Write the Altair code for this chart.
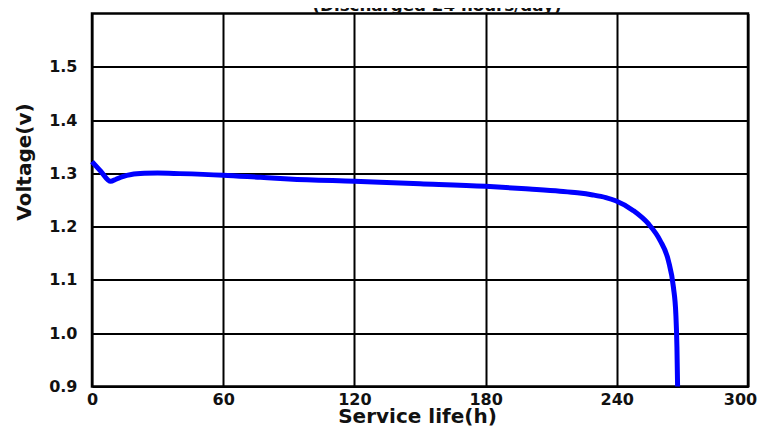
import altair as alt
import pandas as pd

# Service life (h) and voltage (V)
hours = [0, 4, 8.5, 11, 14, 18, 24, 30, 40, 60, 77, 90, 120, 150, 180, 200, 214,
         222, 229, 235, 239.5, 247.6, 254.5, 259.8, 263.6, 265.9, 267.0, 267.5, 267.8]
volts = [1.322, 1.304, 1.285, 1.289, 1.294, 1.298, 1.300, 1.3005, 1.2995, 1.2965,
         1.2925, 1.2895, 1.285, 1.2805, 1.2756, 1.2705, 1.2665,
         1.2635, 1.2595, 1.2545, 1.2485, 1.230, 1.205, 1.174, 1.136, 1.086, 1.036, 0.974, 0.900]

x_ticks = [0, 60, 120, 180, 240, 300]
y_ticks = [0.9, 1.0, 1.1, 1.2, 1.3, 1.4, 1.5]
title_text = "(Discharged 24 hours/day)"
x_title = "Service life(h)"
y_title = "Voltage(v)"

df = pd.DataFrame({"h": hours, "v": volts})
title_df = pd.DataFrame({"t": [title_text]})

FONT = "DejaVu Sans"

line = alt.Chart(df).mark_line(color="#0000FF", strokeWidth=5, interpolate="monotone").encode(
    x=alt.X("h:Q",
            scale=alt.Scale(domain=[0, 300], nice=False, zero=False),
            axis=alt.Axis(values=x_ticks, title=x_title, grid=True, ticks=False, domain=False,
                          labelPadding=5, labelFontSize=16, labelFont=FONT, labelFontWeight="bold",
                          labelColor="#111111", labelFlush=False,
                          labelOffset=alt.condition("datum.value == 300", alt.value(-8), alt.value(0)),
                          titleFontSize=20, titleFont=FONT, titleFontWeight="bold", titleColor="#111111",
                          titleX=325, titleY=36, titleBaseline="alphabetic", titleAlign="center")),
    y=alt.Y("v:Q",
            scale=alt.Scale(domain=[0.9, 1.6], nice=False, zero=False),
            axis=alt.Axis(values=y_ticks, format=".1f", title=y_title, grid=True, ticks=False, domain=False,
                          labelPadding=15, labelFontSize=16, labelFont=FONT, labelFontWeight="bold",
                          labelColor="#111111", labelFlush=False,
                          titleFontSize=20, titleFont=FONT, titleFontWeight="bold", titleColor="#111111",
                          titleAngle=270, titleX=-62, titleY=148, titleBaseline="alphabetic",
                          titleAlign="center")),
)

title = alt.Chart(title_df).mark_text(
    font=FONT, fontWeight="bold", fontSize=16.7, color="#111111",
    align="center", baseline="alphabetic"
).encode(x=alt.value(345), y=alt.value(-2.5), text="t:N")

chart = alt.layer(line, title).properties(
    width=656, height=373,
    autosize=alt.AutoSizeParams(type="none"),
    padding={"left": 84, "top": 5.5, "right": 9, "bottom": 42},
    background="white",
).configure_view(
    stroke="black", strokeWidth=2.5
).configure_axis(
    gridColor="black", gridWidth=2, gridOpacity=1
)

chart.save("out.html", embed_options={"renderer": "svg", "actions": False})
